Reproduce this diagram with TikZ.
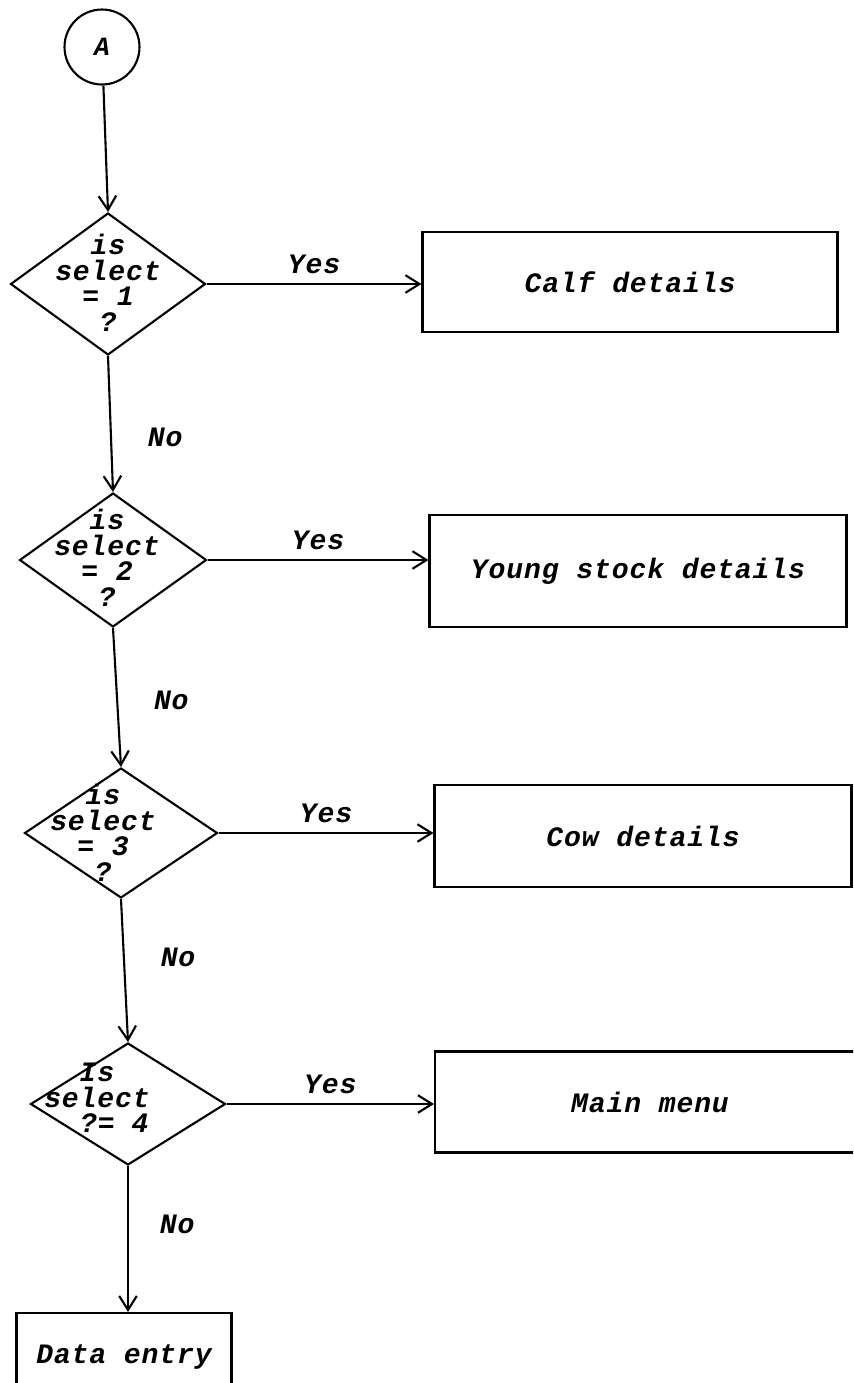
\documentclass[tikz,border=0pt]{standalone}
\usepackage{fontspec}
\newfontfamily\flowfont{Liberation Mono}[LetterSpace=3]
\usetikzlibrary{shapes.geometric,arrows.meta}
\newcommand{\flowtext}{\flowfont\bfseries\itshape\fontsize{16}{14.5}\selectfont}

\tikzset{
  flow/.style={line width=1.2pt,-{Straight Barb[length=8pt,width=10pt]}},
  decision/.style={draw,line width=1.2pt,shape=diamond,inner sep=0pt},
  qtext/.style={font=\flowtext,align=center,inner sep=0pt},
  process/.style={draw,line width=1.2pt,rectangle,font=\flowtext},
  lbl/.style={font=\flowtext}
}

\begin{document}
\begin{tikzpicture}[x=0.02cm,y=-0.02cm]
  \useasboundingbox (0,0) rectangle (853,1383);
  \clip (0,0) rectangle (853,1383);

  % connector
  \node[draw,line width=1.2pt,circle,minimum size=1.5cm,inner sep=0pt,font=\flowfont\bfseries\itshape\fontsize{15}{15}\selectfont] (conA) at (102,47) {A};

  % decisions
  \node[decision,minimum width=3.9cm,minimum height=2.84cm]  (d1) at (108,284) {};
  \node[decision,minimum width=3.74cm,minimum height=2.68cm] (d2) at (113,560) {};
  \node[decision,minimum width=3.86cm,minimum height=2.6cm]  (d3) at (121,833) {};
  \node[decision,minimum width=3.9cm,minimum height=2.44cm]  (d4) at (128,1104) {};

  \node[qtext] (q1) at (108,283) {is\\select\\= 1\\?};
  \node[qtext] (q2) at (107,558) {is\\select\\= 2\\?};
  \node[qtext] (q3) at (103,833) {is\\select\\= 3\\?};
  \node[qtext] (q4) at (97,1098) {Is\\select\\\phantom{se}?=\phantom{c}4};

  % processes
  \node[process,minimum width=8.3cm,minimum height=2cm]    (b1) at (630,282)  {Calf details};
  \node[process,minimum width=8.34cm,minimum height=2.24cm] (b2) at (638,571)  {Young stock details};
  \node[process,minimum width=8.34cm,minimum height=2.04cm] (b3) at (643,836)  {Cow details};
  \node[process,minimum width=8.6cm,minimum height=2.02cm]  (b4) at (650,1102) {Main menu};
  \node[process,minimum width=4.3cm,minimum height=1.76cm]  (b5) at (124,1357) {Data entry};

  % flow down
  \draw[flow] (conA) -- (d1.north);
  \draw[flow] (d1.south) -- node[lbl,right=0.6cm,pos=0.6] {No} (d2.north);
  \draw[flow] (d2.south) -- node[lbl,right=0.6cm,pos=0.52] {No} (d3.north);
  \draw[flow] (d3.south) -- node[lbl,right=0.6cm,pos=0.41] {No} (d4.north);
  \draw[flow] (d4.south) -- node[lbl,right=0.5cm,pos=0.4] {No} (b5.north -| d4.south);

  % yes branches
  \draw[flow] (d1.east) -- node[lbl,above=2pt] {Yes} (d1.east -| b1.west);
  \draw[flow] (d2.east) -- node[lbl,above=2pt] {Yes} (d2.east -| b2.west);
  \draw[flow] (d3.east) -- node[lbl,above=2pt] {Yes} (d3.east -| b3.west);
  \draw[flow] (d4.east) -- node[lbl,above=2pt] {Yes} (d4.east -| b4.west);
\end{tikzpicture}
\end{document}
